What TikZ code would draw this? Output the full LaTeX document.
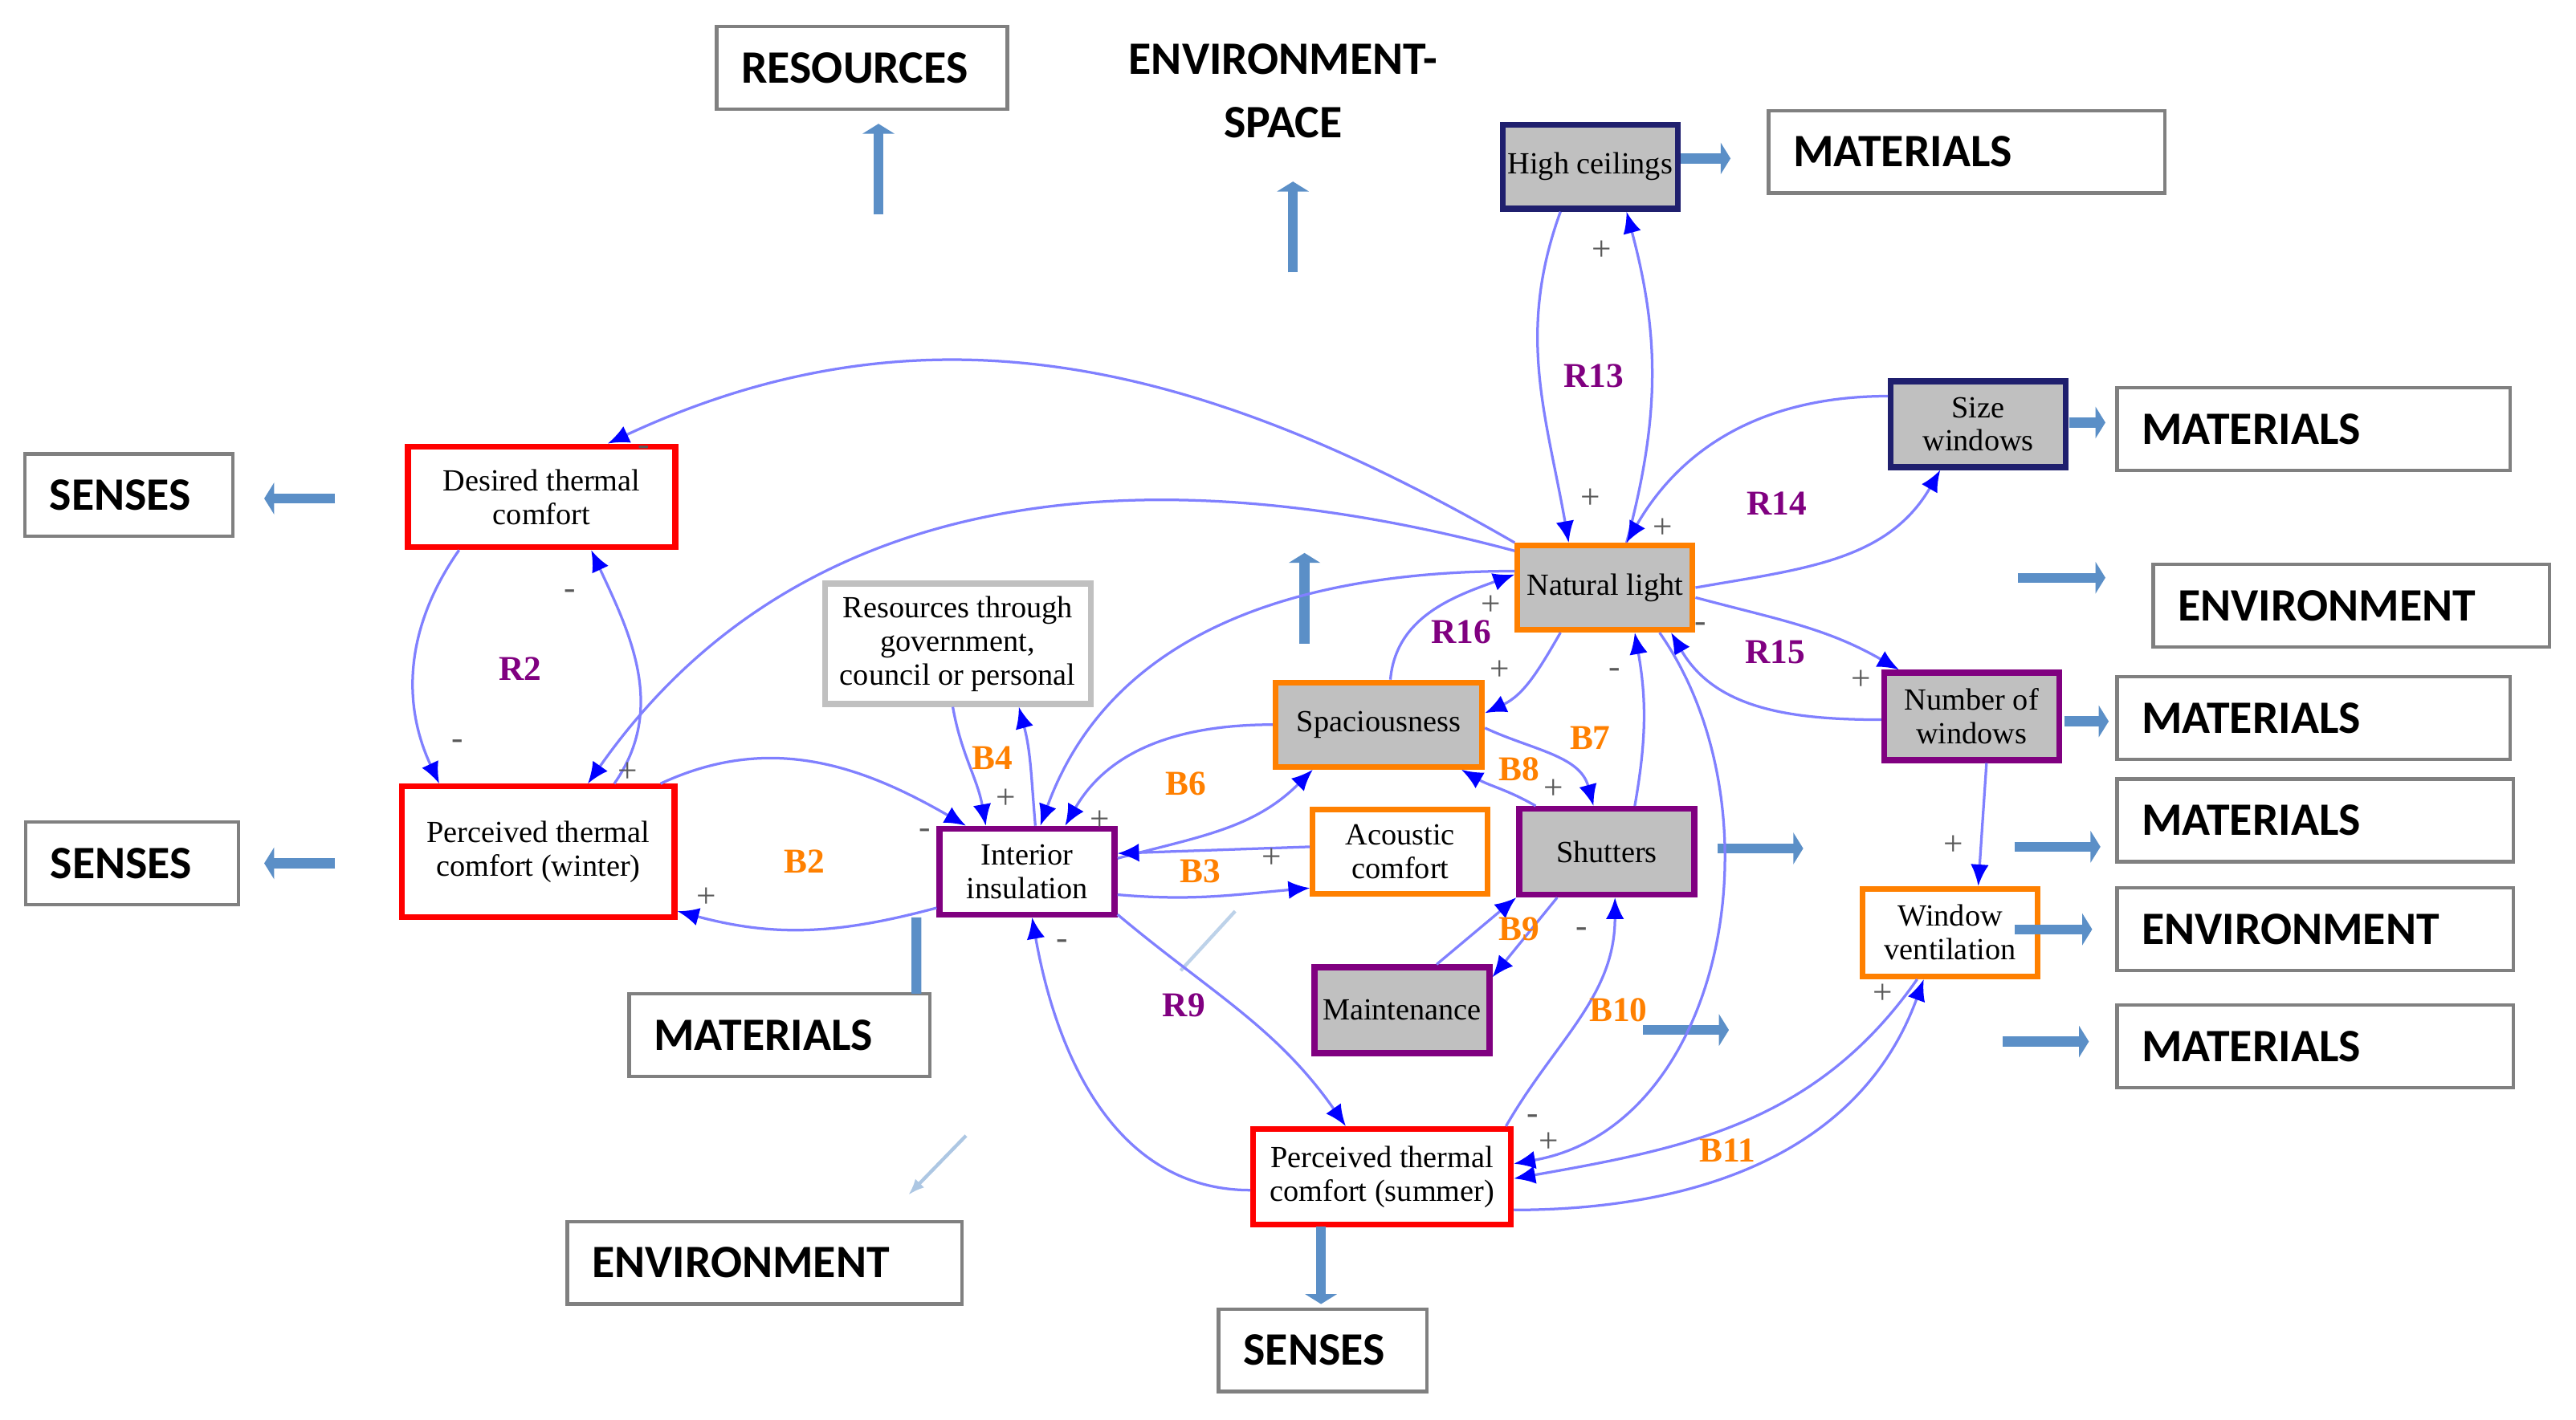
\documentclass[tikz,border=0pt]{standalone}
\usepackage{fontspec}
\setmainfont{Liberation Serif}
\newfontfamily\catfont{Carlito}
\usetikzlibrary{arrows.meta,calc}
\definecolor{linkc}{RGB}{128,128,255}
\definecolor{flowc}{RGB}{91,143,199}
\definecolor{navyc}{RGB}{31,31,110}
\definecolor{purp}{RGB}{128,0,128}
\definecolor{orng}{RGB}{255,128,0}
\definecolor{boxg}{RGB}{192,192,192}
\tikzset{
  cat/.style={draw=gray, line width=0.6pt, minimum height=5mm, inner xsep=1.5mm, align=left, font=\catfont\bfseries\fontsize{8}{9}\selectfont},
  var/.style={line width=1pt, minimum width=10.6mm, minimum height=5.1mm, inner sep=0.5pt, align=center, font=\fontsize{5.3}{5.8}\selectfont},
  link/.style={draw=linkc, line width=0.45pt, -{Latex[length=1.3mm,width=1.1mm,color=blue]}},
  flow/.style={draw=flowc, line width=1.7pt, -{Triangle[length=0.6mm,width=1.9mm]}},
  loopR/.style={text=purp, font=\bfseries\fontsize{6}{7}\selectfont},
  loopB/.style={text=orng, font=\bfseries\fontsize{6}{7}\selectfont},
  sgn/.style={text=gray!70!black, font=\fontsize{6}{6}\selectfont, inner sep=0}
}
\begin{document}
\begin{tikzpicture}[x=0.1mm,y=0.1mm]
    \useasboundingbox (0,0) rectangle (1560,860);

    % category boxes
    \node [cat, text width=14.6mm] (res) at (522,819) {RESOURCES};
    \node [align=center, font=\catfont\bfseries\fontsize{8}{11}\selectfont] (envsp) at (777,805) {ENVIRONMENT-\\SPACE};
    \node [cat, text width=21mm] (matA) at (1191,768) {MATERIALS};
    \node [cat, text width=20.8mm] (matB) at (1401,600) {MATERIALS};
    \node [cat, text width=9.6mm] (senA) at (78,560) {SENSES};
    \node [cat, text width=21mm] (envA) at (1424,493) {ENVIRONMENT};
    \node [cat, text width=20.8mm] (matC) at (1401,425) {MATERIALS};
    \node [cat, text width=21mm] (matD) at (1402,363) {MATERIALS};
    \node [cat, text width=9.9mm] (senB) at (80,337) {SENSES};
    \node [cat, text width=21mm] (envB) at (1402,297) {ENVIRONMENT};
    \node [cat, text width=15.2mm] (matE) at (472,233) {MATERIALS};
    \node [cat, text width=21mm] (matF) at (1402,226) {MATERIALS};
    \node [cat, text width=20.9mm] (envC) at (463,95) {ENVIRONMENT};
    \node [cat, text width=9.6mm] (senC) at (801,42) {SENSES};

    % variables
    \node [var, draw=navyc, fill=boxg] (hc) at (963,759) {High ceilings};
    \node [var, draw=navyc, fill=boxg, minimum height=5.2mm] (sw) at (1198,603) {Size\\windows};
    \node [var, draw=red, minimum width=16.2mm, minimum height=6.1mm] (dtc) at (328,559) {Desired thermal\\comfort};
    \node [var, draw=orng, fill=boxg] (nl) at (972,504) {Natural light};
    \node [var, draw=boxg, minimum width=16.1mm, minimum height=7.3mm] (rtg) at (580,470) {Resources through\\government,\\council or personal};
    \node [var, draw=orng, fill=boxg, minimum width=12.5mm] (spa) at (835,421) {Spaciousness};
    \node [var, draw=purp, fill=boxg, minimum height=5.3mm] (now) at (1194,426) {Number of\\windows};
    \node [var, draw=red, minimum width=16.5mm, minimum height=7.9mm] (ptw) at (326,344) {Perceived thermal\\comfort (winter)};
    \node [var, draw=purp, minimum height=5.2mm] (ins) at (622,332) {Interior\\insulation};
    \node [var, draw=orng] (ac) at (848,344) {Acoustic\\comfort};
    \node [var, draw=purp, fill=boxg, minimum height=5.2mm] (sh) at (973,344) {Shutters};
    \node [var, draw=orng, minimum height=5.3mm] (wv) at (1181,295) {Window\\ventilation};
    \node [var, draw=purp, fill=boxg, minimum height=5.2mm] (mnt) at (849,248) {Maintenance};
    \node [var, draw=red, minimum width=15.6mm, minimum height=5.8mm] (pts) at (837,147) {Perceived thermal\\comfort (summer)};

    % thick arrows
    \foreach \a/\b/\c/\d [count=\i] in {532/730/532/785, 783/695/783/750, 1018/764/1048/764,
        1253/604/1275/604, 203/558/160/558, 203/337/160/337, 1222/510/1275/510, 790/470/790/525,
        1250/423/1277/423, 1040/346/1092/346, 1220/347/1272/347, 1220/297/1267/297,
        995/236/1047/236, 1213/229/1265/229, 800/117/800/70} {
      \coordinate (f\i a) at (\a,\b);
      \coordinate (f\i b) at (\c,\d);
      \draw [flow] (f\i a) -- (f\i b);
    }
    \coordinate (stub) at (555,258);
    \draw [draw=flowc, line width=1.7pt] ([xshift=-6.7mm]ins.south) -- (stub);
    \coordinate (thA) at (585,172);
    \coordinate (thB) at (550,136);
    \draw [draw=flowc!50, line width=0.6pt, -{Latex[length=1mm]}] (thA) -- (thB);
    \coordinate (thC) at (748,308);
    \coordinate (thD) at (715,272);
    \draw [draw=flowc!40, line width=0.6pt] (thC) -- (thD);

    % causal links
    \draw [link] (nl.north west) to[out=150,in=25] ([xshift=4mm]dtc.north);
    \draw [link] ([yshift=-0.5mm]nl.north west) to[out=165,in=55] ([xshift=3mm]ptw.north);
    \draw [link] ([xshift=-5mm]dtc.south) to[out=235,in=115] ([xshift=-6mm]ptw.north);
    \draw [link] ([xshift=4.6mm]ptw.north) to[out=55,in=-65] ([xshift=3mm]dtc.south);
    \draw [link] ([xshift=7.4mm]ptw.north) to[out=25,in=150] ([xshift=-3.7mm]ins.north);
    \draw [link] ([yshift=-2.2mm]ins.west) to[out=195,in=-15] ([yshift=-3.6mm]ptw.east);
    \draw [link] ([xshift=-0.3mm]rtg.south) to[out=-80,in=100] ([xshift=-2.5mm]ins.north);
    \draw [link] ([xshift=0.5mm]ins.north) to[out=95,in=-75] ([xshift=3.7mm]rtg.south);
    \draw [link] ([yshift=1mm]nl.west) to[out=180,in=70] ([xshift=0.8mm]ins.north);
    \draw [link] (spa.west) to[out=180,in=60] ([xshift=2.3mm]ins.north);
    \draw [link] ([yshift=0.8mm]ins.east) to[out=15,in=225] ([xshift=-4mm]spa.south);
    \draw [link] ([yshift=0.3mm]ac.west) -- ([yshift=1.1mm]ins.east);
    \draw [link] ([yshift=-1.4mm]ins.east) to[out=-5,in=185] ([yshift=-2.2mm]ac.west);
    \draw [link] ([xshift=0.7mm]spa.north) to[out=85,in=200] ([yshift=0.8mm]nl.west);
    \draw [link] ([xshift=-2.7mm]nl.south) to[out=240,in=25] ([yshift=0.7mm]spa.east);
    \draw [link] ([yshift=-0.2mm]spa.east) to[out=-25,in=105] ([xshift=-0.8mm]sh.north);
    \draw [link] ([xshift=-4.3mm]sh.north) to[out=150,in=-30] ([xshift=5mm]spa.south);
    \draw [link] ([xshift=1.7mm]sh.north) to[out=80,in=-80] ([xshift=1.8mm]nl.south);
    \draw [link] ([xshift=-1.8mm]hc.south) to[out=250,in=100] ([xshift=-2.2mm]nl.north);
    \draw [link] ([xshift=1.3mm]nl.north) to[out=75,in=-75] ([xshift=2.2mm]hc.south);
    \draw [link] ([yshift=1.7mm]sw.west) to[out=180,in=60] ([xshift=1.3mm]nl.north);
    \draw [link] (nl.east) to[out=10,in=240] ([xshift=-2.3mm]sw.south);
    \draw [link] ([yshift=-0.6mm]nl.east) to[out=-15,in=150] ([xshift=-4.4mm]now.north);
    \draw [link] ([yshift=-0.2mm]now.west) to[out=180,in=-60] ([xshift=4mm]nl.south);
    \draw [link] ([xshift=0.9mm]now.south) -- ([xshift=1.7mm]wv.north);
    \draw [link] ([xshift=-3mm]sh.south) -- ([yshift=2mm]mnt.east);
    \draw [link] ([xshift=2.1mm]mnt.north) -- (sh.south west);
    \draw [link] ([xshift=7.5mm]pts.north) to[out=60,in=-90] ([xshift=0.5mm]sh.south);
    \draw [link] ([xshift=3.3mm]nl.south) to[out=-55,in=10] ([yshift=0.8mm]pts.east);
    \draw [link] ([xshift=-2mm]wv.south) to[out=235,in=10] ([yshift=-0.1mm]pts.east);
    \draw [link] ([yshift=-2mm]pts.east) to[out=0,in=250] ([xshift=-1.6mm]wv.south);
    \draw [link] ([yshift=-2.6mm]ins.east) to[out=-40,in=125] ([xshift=-2.2mm]pts.north);
    \draw [link] ([yshift=-0.8mm]pts.west) to[out=180,in=-80] ([xshift=0.3mm]ins.south);

    % loop labels
    \node [loopR] (lR2) at (315,455) {R2};
    \node [loopB] (lB2) at (487,338) {B2};
    \node [loopB] (lB4) at (601,401) {B4};
    \node [loopB] (lB6) at (718,385) {B6};
    \node [loopB] (lB3) at (727,332) {B3};
    \node [loopR] (lR16) at (885,477) {R16};
    \node [loopB] (lB7) at (963,413) {B7};
    \node [loopB] (lB8) at (920,394) {B8};
    \node [loopB] (lB9) at (920,297) {B9};
    \node [loopB] (lB10) at (980,248) {B10};
    \node [loopB] (lB11) at (1046,163) {B11};
    \node [loopR] (lR9) at (717,251) {R9};
    \node [loopR] (lR13) at (965,632) {R13};
    \node [loopR] (lR14) at (1076,555) {R14};
    \node [loopR] (lR15) at (1075,465) {R15};

    % polarities
    \foreach \x/\y [count=\i] in {970/708, 963/558, 1007/540, 903/493, 908/454, 941/382,
        1127/448, 1183/348, 1140/258, 380/392, 428/316, 609/376, 666/363, 770/340, 938/168} {
      \node [sgn] (p\i) at (\x,\y) {+};
    }
    \foreach \x/\y [count=\i] in {345/500, 277/409, 560/355, 643/288, 978/452, 958/295,
        928/182, 1030/480, 390/587} {
      \node [sgn] (m\i) at (\x,\y) {-};
    }
\end{tikzpicture}
\end{document}
